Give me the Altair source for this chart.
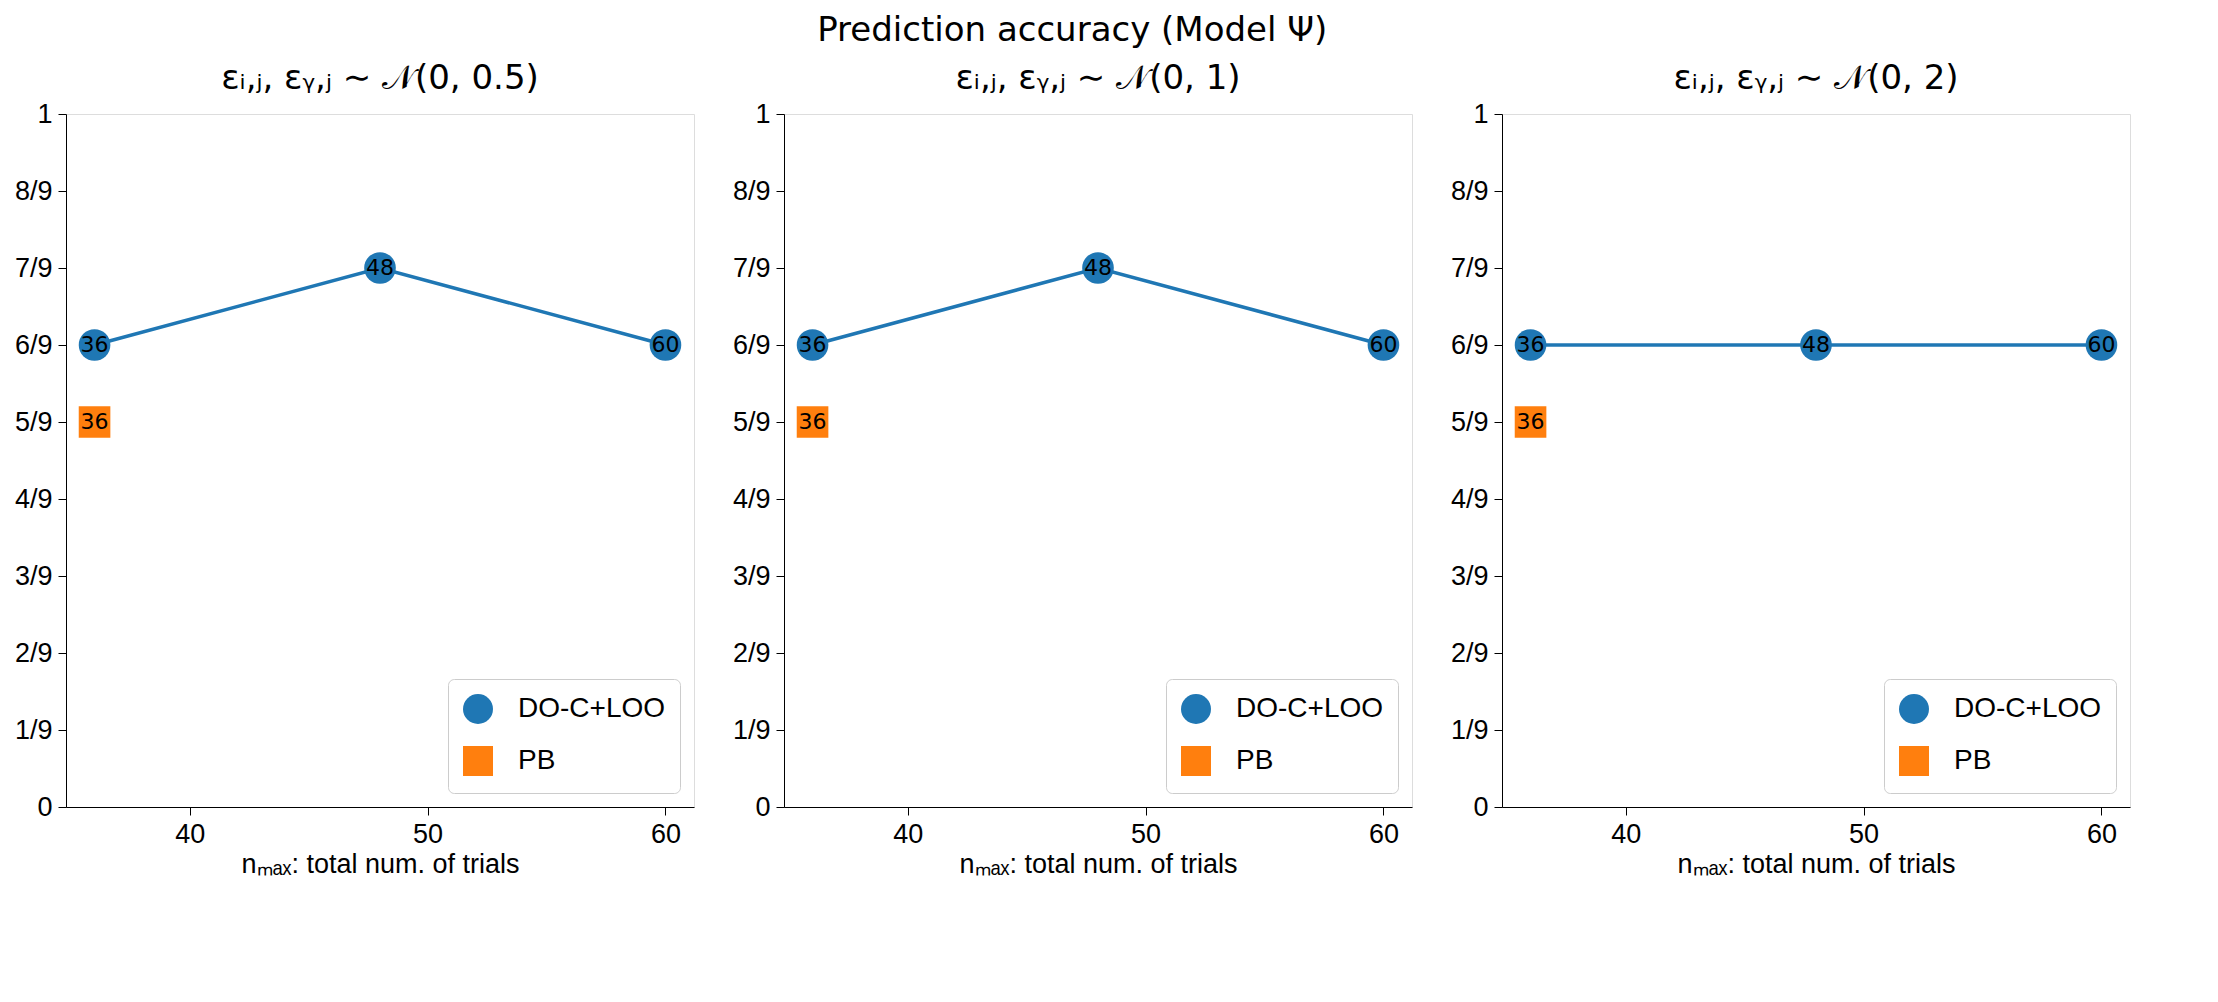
import altair as alt
import pandas as pd

panel_titles = ["εᵢ,ⱼ, εᵧ,ⱼ ∼ 𝒩(0, 0.5)", "εᵢ,ⱼ, εᵧ,ⱼ ∼ 𝒩(0, 1)", "εᵢ,ⱼ, εᵧ,ⱼ ∼ 𝒩(0, 2)"]
x_do = [36, 48, 60]
do_vals = [[6, 7, 6], [6, 7, 6], [6, 6, 6]]  # in ninths
x_pb = [36]
pb_vals = [[5], [5], [5]]
series = ["DO-C+LOO", "PB"]
colors = ["#1f77b4", "#ff7f0e"]
font = "DejaVu Sans"

rows = []
for p in range(3):
    for x, v in zip(x_do, do_vals[p]):
        rows.append(dict(panel=p, x=x, y=v / 9, s="DO-C+LOO", lab=str(x)))
    for x, v in zip(x_pb, pb_vals[p]):
        rows.append(dict(panel=p, x=x, y=v / 9, s="PB", lab=str(x)))
df = pd.DataFrame(rows)

xs = alt.Scale(domain=[34.8, 61.2], nice=False, zero=False)
ys = alt.Scale(domain=[0, 1], nice=False)
yticks = [k / 9 for k in range(10)]

def panel(p):
    base = alt.Chart(df[df.panel == p])
    X = alt.X("x:Q", scale=xs, axis=alt.Axis(values=[40, 50, 60], grid=False, labelFontSize=27,
              titleFontSize=27, titleFontWeight="normal", tickSize=8, domainColor="black", tickColor="black",
              labelColor="black", titleColor="black", labelPadding=6),
              title="nₘₐₓ: total num. of trials")
    Y = alt.Y("y:Q", scale=ys, axis=alt.Axis(values=yticks, grid=False, labelFontSize=27, tickSize=8,
              labelExpr="datum.value < 0.01 ? '0' : datum.value > 0.99 ? '1' : round(datum.value*9) + '/9'",
              domainColor="black", tickColor="black", labelColor="black", labelPadding=6), title=None)
    col = alt.Color("s:N", scale=alt.Scale(domain=series, range=colors),
                    legend=alt.Legend(title=None, orient="bottom-right", labelFontSize=28, symbolSize=900,
                                      strokeColor="#cccccc", cornerRadius=6, padding=14, offset=14,
                                      fillColor="white", rowPadding=16, symbolOpacity=1, labelOffset=24))
    shp = alt.Shape("s:N", scale=alt.Scale(domain=series, range=["circle", "square"]))
    line = base.transform_filter("datum.s=='DO-C+LOO'").mark_line(color=colors[0], strokeWidth=3.5).encode(x=X, y=Y)
    pts = base.mark_point(filled=True, size=1000, opacity=1).encode(x=X, y=Y, color=col, shape=shp)
    txt = base.mark_text(fontSize=22, font=font, color="black").encode(x=X, y=Y, text="lab:N")
    return alt.layer(line, pts, txt).properties(
        width=628, height=693,
        title=alt.TitleParams(panel_titles[p], fontSize=34, fontWeight="normal", font=font, color="black"))

chart = alt.hconcat(*[panel(p) for p in range(3)], spacing=36).resolve_scale(
    color="independent", shape="independent").resolve_legend(color="independent", shape="independent").properties(
    title=alt.TitleParams("Prediction accuracy (Model Ψ)", fontSize=34, fontWeight="normal", anchor="middle",
                          font=font, color="black", offset=14)
).configure_view(stroke="black", strokeWidth=1.5).configure_axis(labelFont=font, titleFont=font).configure_legend(
    labelFont=font).configure(background="white")

chart.save("out.html", embed_options={"renderer": "svg", "actions": False})
